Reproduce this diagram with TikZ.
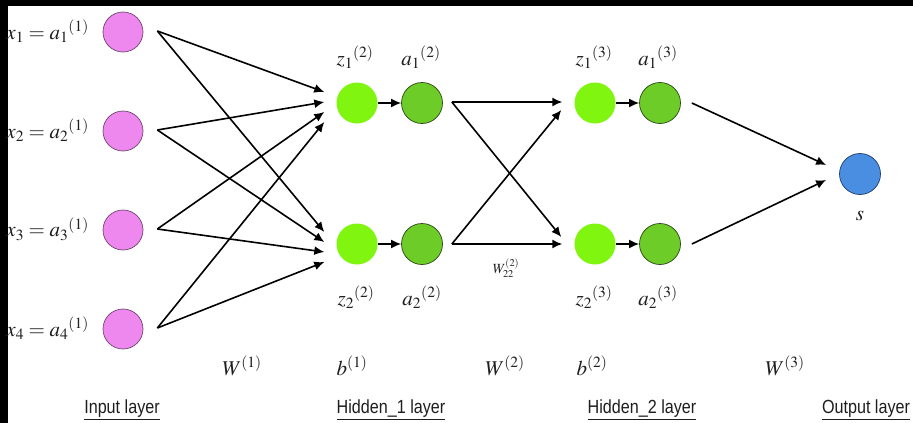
\documentclass[tikz,border=0pt]{standalone}
\usepackage{mathptmx}
\usepackage{fontspec}
\newfontfamily\layerfont{Liberation Sans}
\usetikzlibrary{arrows.meta,calc}
\definecolor{pinkc}{RGB}{238,136,238}
\definecolor{pinkb}{RGB}{110,70,110}
\definecolor{lgreen}{RGB}{128,246,16}
\definecolor{dgreen}{RGB}{110,204,40}
\definecolor{dgreenb}{RGB}{40,70,20}
\definecolor{bluec}{RGB}{74,142,226}
\definecolor{blueb}{RGB}{30,60,110}
\definecolor{txt}{RGB}{30,30,30}
\tikzset{
  inp/.style={circle, minimum size=40pt, inner sep=0pt, fill=pinkc, draw=pinkb, line width=0.7pt},
  zn/.style={circle, minimum size=41pt, inner sep=0pt, fill=lgreen},
  an/.style={circle, minimum size=41pt, inner sep=0pt, fill=dgreen, draw=dgreenb, line width=0.7pt},
  outnode/.style={circle, minimum size=41pt, inner sep=0pt, fill=bluec, draw=blueb, line width=0.7pt},
  arr/.style={-{Latex[length=10pt,width=9pt]}, line width=1.6pt},
  mlab/.style={inner sep=0pt, text=txt, font=\fontsize{21}{25}\selectfont},
  slab/.style={inner sep=0pt, text=txt, font=\fontsize{14}{17}\selectfont},
  layerlab/.style={inner sep=0pt, text=txt, font=\layerfont\fontsize{19}{22}\selectfont}
}
\begin{document}
\begin{tikzpicture}[x=1pt,y=-1pt]
\fill[black] (0,0) rectangle (913,423);
\fill[white] (8,6) rectangle (913,423);
\useasboundingbox (0,0) rectangle (913,423);
% input layer
\node[inp] (i1) at (123,32) {};
\node[inp] (i2) at (123,131) {};
\node[inp] (i3) at (123,230) {};
\node[inp] (i4) at (123,329) {};
\node[mlab, anchor=east] (l1) at (89,31) {$x_1 = a_1{}^{(1)}$};
\node[mlab, anchor=east] (l2) at (89,130) {$x_2 = a_2{}^{(1)}$};
\node[mlab, anchor=east] (l3) at (89,229) {$x_3 = a_3{}^{(1)}$};
\node[mlab, anchor=east] (l4) at (89,328) {$x_4 = a_4{}^{(1)}$};
% hidden 1
\node[zn] (z12) at (357,103) {};
\node[an] (a12) at (422,103) {};
\node[zn] (z22) at (357,244) {};
\node[an] (a22) at (422,244) {};
% hidden 2
\node[zn] (z13) at (595,103) {};
\node[an] (a13) at (660,103) {};
\node[zn] (z23) at (595,244) {};
\node[an] (a23) at (660,244) {};
% output
\node[outnode] (o) at (860,174) {};
% labels
\node[mlab] (tz12) at (355,57) {$z_1{}^{(2)}$};
\node[mlab] (ta12) at (421,57) {$a_1{}^{(2)}$};
\node[mlab] (tz13) at (594,57) {$z_1{}^{(3)}$};
\node[mlab] (ta13) at (658,57) {$a_1{}^{(3)}$};
\node[mlab] (tz22) at (356,297) {$z_2{}^{(2)}$};
\node[mlab] (ta22) at (422,297) {$a_2{}^{(2)}$};
\node[mlab] (tz23) at (594,297) {$z_2{}^{(3)}$};
\node[mlab] (ta23) at (658,297) {$a_2{}^{(3)}$};
\node[slab] (tw22) at (506,268) {$W^{(2)}_{22}$};
\node[mlab] (ts) at (860,216) {$s$};
\node[mlab] (tw1) at (242,366) {$W^{(1)}$};
\node[mlab] (tb1) at (352,366) {$b^{(1)}$};
\node[mlab] (tw2) at (505,366) {$W^{(2)}$};
\node[mlab] (tb2) at (592,366) {$b^{(2)}$};
\node[mlab] (tw3) at (785,366) {$W^{(3)}$};
\node[layerlab] (ll1) at (122,410) {\scalebox{0.85}[1]{\underline{Input layer}}};
\node[layerlab] (ll2) at (391,410) {\scalebox{0.85}[1]{\underline{Hidden\_1 layer}}};
\node[layerlab] (ll3) at (642,410) {\scalebox{0.85}[1]{\underline{Hidden\_2 layer}}};
\node[layerlab] (ll4) at (866,410) {\scalebox{0.85}[1]{\underline{Output layer}}};
% input -> hidden 1
\draw[arr] ($(i1.east)+(14,-1)$) -- ($(z12.west)+(-12,-11)$);
\draw[arr] ($(i2.east)+(14,-1)$) -- ($(z12.west)+(-12,-1)$);
\draw[arr] ($(i3.east)+(14,-1)$) -- ($(z12.west)+(-12,9)$);
\draw[arr] ($(i4.east)+(14,-1)$) -- ($(z12.west)+(-12,19)$);
\draw[arr] ($(i1.east)+(14,-1)$) -- ($(z22.west)+(-12,-12)$);
\draw[arr] ($(i2.east)+(14,-1)$) -- ($(z22.west)+(-12,-2)$);
\draw[arr] ($(i3.east)+(14,-1)$) -- ($(z22.west)+(-12,8)$);
\draw[arr] ($(i4.east)+(14,-1)$) -- ($(z22.west)+(-12,18)$);
% z -> a
\draw[arr] (z12.east) -- (a12.west);
\draw[arr] (z22.east) -- (a22.west);
\draw[arr] (z13.east) -- (a13.west);
\draw[arr] (z23.east) -- (a23.west);
% hidden 1 -> hidden 2
\draw[arr] ($(a12.east)+(9,-1)$) -- ($(z13.west)+(-12,-1)$);
\draw[arr] ($(a12.east)+(9,-1)$) -- ($(z23.west)+(-13,-7)$);
\draw[arr] ($(a22.east)+(9,0)$) -- ($(z13.west)+(-13,7)$);
\draw[arr] ($(a22.east)+(9,0)$) -- ($(z23.west)+(-12,0)$);
% hidden 2 -> output
\draw[arr] ($(a13.east)+(11,0)$) -- ($(o.west)+(-13,-9)$);
\draw[arr] ($(a23.east)+(11,0)$) -- ($(o.west)+(-13,6)$);
\end{tikzpicture}
\end{document}
